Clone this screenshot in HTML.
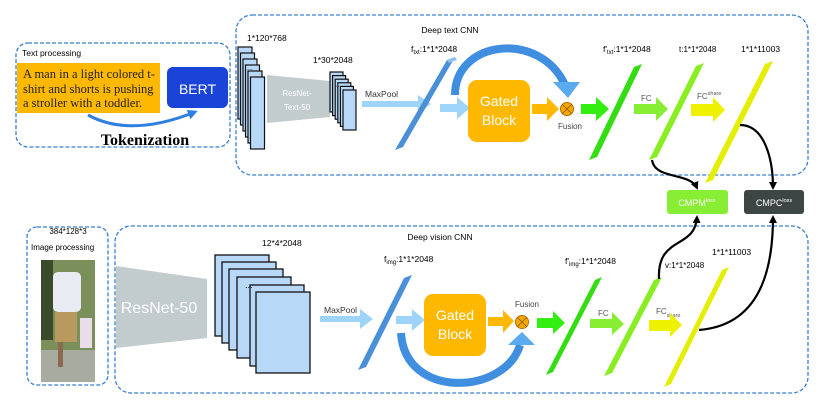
<!DOCTYPE html>
<html><head><meta charset="utf-8"><style>
html,body{margin:0;padding:0;background:#fff}
svg{display:block}
text{font-family:"Liberation Sans",sans-serif}
text.serif, .serif tspan{font-family:"Liberation Serif",serif}
</style></head><body>
<svg width="830" height="410" viewBox="0 0 830 410" xmlns="http://www.w3.org/2000/svg">
<defs>
<marker id="ah" markerWidth="8" markerHeight="8" refX="6" refY="4" orient="auto" markerUnits="userSpaceOnUse"><path d="M0,0 L8,4 L0,8 Z" fill="#000"/></marker>
<marker id="ahb" markerWidth="10" markerHeight="10" refX="7" refY="5" orient="auto" markerUnits="userSpaceOnUse"><path d="M0,0 L10,5 L0,10 Z" fill="#2f7fe0"/></marker>
</defs>
<!-- boxes -->
<rect x="16" y="43" width="214" height="104" rx="12" fill="none" stroke="#3a7fd0" stroke-width="1.3" stroke-dasharray="4,2"/>
<rect x="236" y="15" width="572" height="160" rx="16" fill="none" stroke="#3a7fd0" stroke-width="1.3" stroke-dasharray="4,2"/>
<rect x="27" y="227" width="81" height="158" rx="10" fill="none" stroke="#3a7fd0" stroke-width="1.3" stroke-dasharray="4,2"/>
<rect x="115" y="226" width="693" height="167" rx="16" fill="none" stroke="#3a7fd0" stroke-width="1.3" stroke-dasharray="4,2"/>

<!-- text processing -->
<text x="22" y="56" font-size="8.5">Text processing</text>
<rect x="17" y="63" width="143" height="50" fill="#ffb800"/>
<text class="serif" style="font-family:'Liberation Serif',serif" font-size="12.5" fill="#222"><tspan x="23" y="78">A man in a light colored t-</tspan><tspan x="23" y="93">shirt and shorts is pushing</tspan><tspan x="23" y="107">a stroller with a toddler.</tspan></text>
<rect x="167" y="67" width="61" height="41" rx="6" fill="#1a44d8"/>
<text x="197.5" y="94" font-size="14" fill="#fff" text-anchor="middle">BERT</text>
<path d="M88,115 Q130,138 195,112" fill="none" stroke="#2f7fe0" stroke-width="3" marker-end="url(#ahb)"/>
<text class="serif" style="font-family:'Liberation Serif',serif" x="145" y="145" font-weight="bold" font-size="16" text-anchor="middle">Tokenization</text>

<!-- deep text CNN -->
<text x="450" y="33" font-size="8.5" text-anchor="middle">Deep text CNN</text>
<text x="247" y="41" font-size="8.5">1*120*768</text>
<g fill="#b8d8f8" stroke="#111" stroke-width="1.2">
<rect x="238" y="47" width="14" height="72"/><rect x="240.5" y="53" width="14" height="72"/><rect x="243" y="59" width="14" height="72"/><rect x="245.5" y="65" width="14" height="72"/><rect x="248" y="71" width="14" height="72"/><rect x="250.5" y="77" width="14" height="72"/>
</g>
<text x="247" y="70" font-size="7">...</text>
<polygon points="267,75 330,81 330,117 267,123" fill="#c2cccc"/>
<text x="297" y="96" font-size="8" fill="#fff" text-anchor="middle">ResNet-</text>
<text x="297" y="110" font-size="8" fill="#fff" text-anchor="middle">Text-50</text>
<text x="313" y="63" font-size="8.5">1*30*2048</text>
<g fill="#b8d8f8" stroke="#111" stroke-width="1.2">
<rect x="330" y="72" width="13" height="40"/><rect x="332.6" y="75.6" width="13" height="40"/><rect x="335.2" y="79.2" width="13" height="40"/><rect x="337.8" y="82.8" width="13" height="40"/><rect x="340.4" y="86.4" width="13" height="40"/><rect x="343" y="90" width="13" height="40"/>
</g>
<text x="336" y="87" font-size="6">...</text>
<text x="365" y="97" font-size="8.5" fill="#333">MaxPool</text>
<polygon points="362,101 418,101 418,95 431,104 418,113 418,107 362,107" fill="#9fd4fa"/>
<polygon points="395,150 447,60 455,57 403,147" fill="#4a90d9"/>
<polygon points="447,60 455,57 457,60 449,63" fill="#8cc0f0"/>
<text x="411" y="52" font-size="8.5">f<tspan font-size="6" dy="2">txt</tspan><tspan dy="-2">:1*1*2048</tspan></text>
<polygon points="440,104 457,104 457,97 470,108 457,119 457,112 440,112" fill="#9fd4fa"/>
<path d="M455,95 C455,40 540,30 565,85" fill="none" stroke="#3f8ee0" stroke-width="8"/>
<polygon points="553,82 580,82 568,98" fill="#5aaaf0"/>
<rect x="468" y="80" width="62" height="62" rx="9" fill="#ffb800"/>
<text x="499" y="106" font-size="14" fill="#fff" text-anchor="middle">Gated</text>
<text x="499" y="125" font-size="14" fill="#fff" text-anchor="middle">Block</text>
<polygon points="532,104 547,104 547,97 559,109 547,121 547,114 532,114" fill="#ffb800"/>
<circle cx="567" cy="109" r="6.5" fill="#f5a800" stroke="#b07000" stroke-width="1"/>
<path d="M562.5,104.5 L571.5,113.5 M571.5,104.5 L562.5,113.5" stroke="#8a5500" stroke-width="0.8"/>
<text x="570" y="129" font-size="8" fill="#444" text-anchor="middle">Fusion</text>
<polygon points="581,104 596,104 596,97 609,109 596,121 596,114 581,114" fill="#33ee11"/>
<polygon points="589,160 634,67 642,64 597,157" fill="#33dd11"/>
<text x="603" y="52" font-size="8.5">f'<tspan font-size="6" dy="2">txt</tspan><tspan dy="-2">:1*1*2048</tspan></text>
<text x="641" y="101" font-size="8" fill="#555">FC</text>
<polygon points="634,104 656,104 656,97 668,109 656,121 656,114 634,114" fill="#88ee33"/>
<polygon points="649,160 696,66 704,63 657,157" fill="#88ee22"/>
<text x="679" y="52" font-size="8">t:1*1*2048</text>
<text x="697" y="99" font-size="8" fill="#555">FC<tspan font-size="5.5" dy="-4">share</tspan></text>
<polygon points="691,104 713,104 713,97 725,110 713,122 713,116 691,116" fill="#eef200"/>
<polygon points="705,183 765,64 773,61 713,180" fill="#e4ee00"/>
<text x="741" y="52" font-size="8.5">1*1*11003</text>
<path d="M652,160 C655,180 690,172 697,188" fill="none" stroke="#000" stroke-width="2.2" marker-end="url(#ah)"/>
<path d="M740,125 C765,125 773,160 773,188" fill="none" stroke="#000" stroke-width="2.2" marker-end="url(#ah)"/>
<rect x="667" y="190" width="61" height="24" rx="3" fill="#88ee33"/>
<text x="697" y="206" font-size="9" fill="#fff" text-anchor="middle">CMPM<tspan font-size="5.5" dy="-4">loss</tspan></text>
<rect x="744" y="190" width="60" height="24" rx="3" fill="#3d4545"/>
<text x="774" y="206" font-size="9" fill="#fff" text-anchor="middle">CMPC<tspan font-size="5.5" dy="-4">loss</tspan></text>

<!-- image processing -->
<text x="68" y="234" font-size="8" text-anchor="middle">384*128*3</text>
<text x="31" y="250" font-size="8">Image processing</text>
<rect x="41" y="260" width="54" height="122" fill="#7a8f5a"/>
<rect x="41" y="260" width="12" height="80" fill="#3a4a2a"/>
<rect x="53" y="272" width="28" height="40" rx="5" fill="#e8ecf2"/>
<rect x="55" y="312" width="22" height="30" fill="#b89a60"/>
<rect x="80" y="318" width="12" height="30" fill="#e8dde8"/>
<rect x="41" y="350" width="54" height="32" fill="#a8aca0"/>
<rect x="58" y="342" width="5" height="25" fill="#8a6a50"/>

<!-- deep vision CNN -->
<text x="440" y="240" font-size="8.5" text-anchor="middle">Deep vision CNN</text>
<polygon points="116,266 207,279 207,338 116,348" fill="#c2cccc"/>
<text x="159" y="313" font-size="16" fill="#fff" text-anchor="middle">ResNet-50</text>
<text x="262" y="246" font-size="8.5">12*4*2048</text>
<g fill="#b8d8f8" stroke="#111" stroke-width="1.3">
<rect x="215" y="255" width="54" height="81"/><rect x="222" y="262" width="54" height="81"/><rect x="229" y="269" width="54" height="81"/><rect x="237" y="277" width="54" height="81"/><rect x="250" y="285" width="54" height="81"/><rect x="256" y="292" width="54" height="81"/>
</g>
<text x="245" y="288" font-size="9">...</text>
<text x="324" y="313" font-size="8.5" fill="#333">MaxPool</text>
<polygon points="320,316 360,316 360,309 373,319 360,329 360,322 320,322" fill="#9fd4fa"/>
<polygon points="358,370 404,278 412,275 366,367" fill="#4a90d9"/>
<text x="384" y="262" font-size="8.5">f<tspan font-size="6" dy="2">img</tspan><tspan dy="-2">:1*1*2048</tspan></text>
<polygon points="396,316 412,316 412,309 425,320 412,331 412,324 396,324" fill="#9fd4fa"/>
<path d="M401,333 C405,400 505,395 520,345" fill="none" stroke="#3f8ee0" stroke-width="8"/>
<polygon points="508,345 535,345 522,332" fill="#5aaaf0"/>
<rect x="424" y="294" width="62" height="62" rx="9" fill="#ffb800"/>
<text x="455" y="320" font-size="14" fill="#fff" text-anchor="middle">Gated</text>
<text x="455" y="339" font-size="14" fill="#fff" text-anchor="middle">Block</text>
<polygon points="488,317 503,317 503,310 514,321 503,333 503,326 488,326" fill="#ffb800"/>
<circle cx="522" cy="322" r="6.5" fill="#f5a800" stroke="#b07000" stroke-width="1"/>
<path d="M517.5,317.5 L526.5,326.5 M526.5,317.5 L517.5,326.5" stroke="#8a5500" stroke-width="0.8"/>
<text x="527" y="307" font-size="8" fill="#444" text-anchor="middle">Fusion</text>
<polygon points="537,318 553,318 553,311 565,323 553,334 553,328 537,328" fill="#33ee11"/>
<polygon points="546,375 595,280 602,277 553,372" fill="#33dd11"/>
<text x="565" y="264" font-size="8.5">f'<tspan font-size="6" dy="2">img</tspan><tspan dy="-2">:1*1*2048</tspan></text>
<text x="598" y="316" font-size="8" fill="#555">FC</text>
<polygon points="590,319 612,319 612,312 624,324 612,335 612,328 590,328" fill="#88ee33"/>
<polygon points="604,376 654,280 662,277 612,373" fill="#88ee22"/>
<text x="665" y="268" font-size="8">v:1*1*2048</text>
<text x="656" y="314" font-size="8" fill="#555">FC<tspan font-size="5.5" dy="3">share</tspan></text>
<polygon points="649,320 670,320 670,313 682,325 670,337 670,331 649,331" fill="#eef200"/>
<polygon points="664,387 722,270 729,267 671,384" fill="#e4ee00"/>
<text x="712" y="255" font-size="8.5">1*1*11003</text>
<path d="M659,279 C657,235 695,250 697,217" fill="none" stroke="#000" stroke-width="2.2" marker-end="url(#ah)"/>
<path d="M699,330 C760,325 773,270 773,217" fill="none" stroke="#000" stroke-width="2.2" marker-end="url(#ah)"/>
</svg>
</body></html>
